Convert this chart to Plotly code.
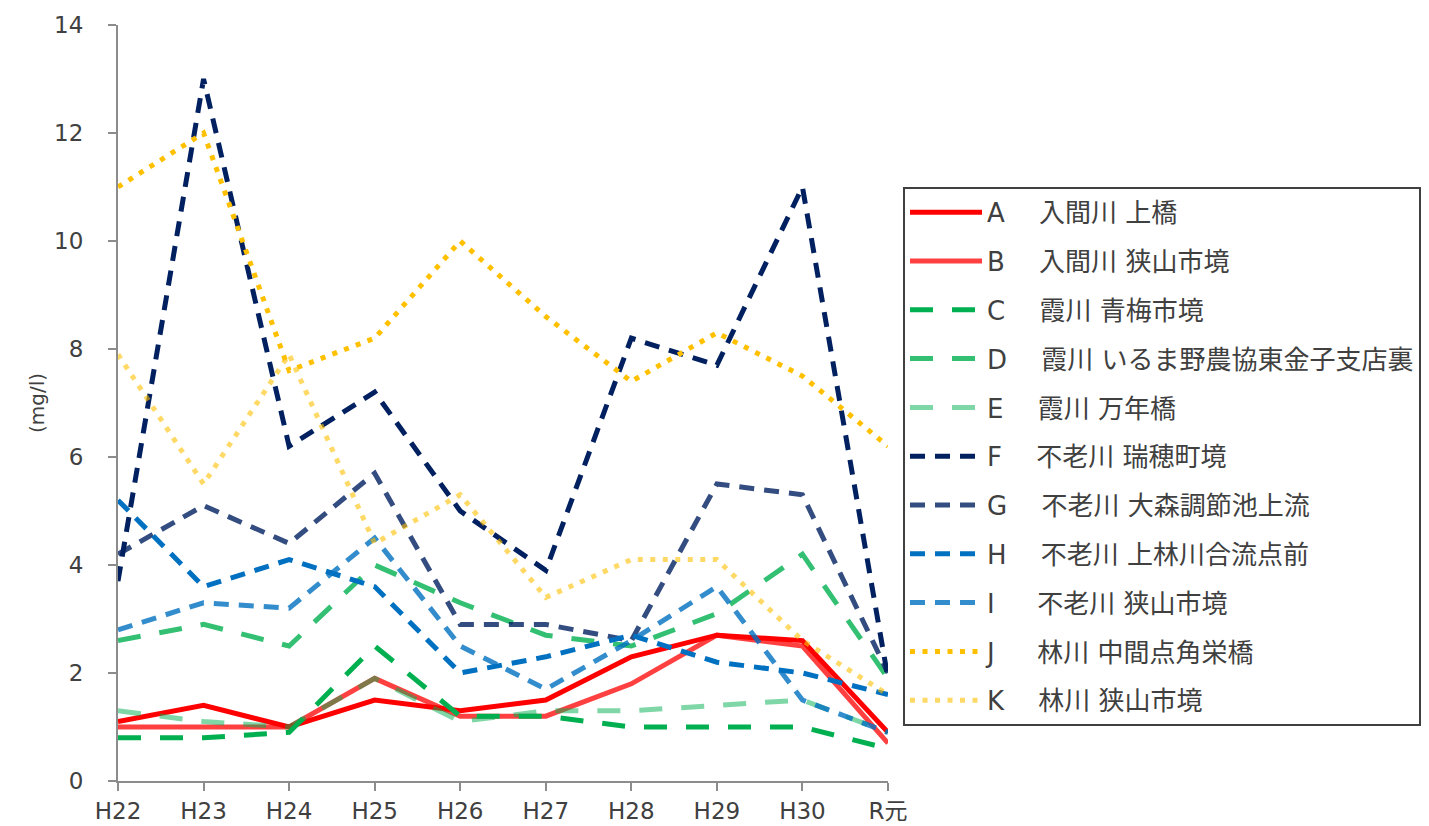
import plotly.graph_objects as go

years = ["H22", "H23", "H24", "H25", "H26", "H27", "H28", "H29", "H30", "R元"]

letters = ["A", "B", "C", "D", "E", "F", "G", "H", "I", "J", "K"]
sites = [
    "入間川 上橋",
    "入間川 狭山市境",
    "霞川 青梅市境",
    "霞川 いるま野農協東金子支店裏",
    "霞川 万年橋",
    "不老川 瑞穂町境",
    "不老川 大森調節池上流",
    "不老川 上林川合流点前",
    "不老川 狭山市境",
    "林川 中間点角栄橋",
    "林川 狭山市境",
]

A = [1.1, 1.4, 1.0, 1.5, 1.3, 1.5, 2.3, 2.7, 2.6, 0.9]
B = [1.0, 1.0, 1.0, 1.9, 1.2, 1.2, 1.8, 2.7, 2.5, 0.7]
C = [0.8, 0.8, 0.9, 2.5, 1.2, 1.2, 1.0, 1.0, 1.0, 0.6]
D = [2.6, 2.9, 2.5, 4.0, 3.3, 2.7, 2.5, 3.1, 4.2, 1.9]
E = [1.3, 1.1, 1.0, 1.9, 1.1, 1.3, 1.3, 1.4, 1.5, 0.9]
F = [3.7, 13.0, 6.2, 7.2, 5.0, 3.9, 8.2, 7.7, 11.0, 1.9]
G = [4.2, 5.1, 4.4, 5.7, 2.9, 2.9, 2.6, 5.5, 5.3, 2.0]
H = [5.2, 3.6, 4.1, 3.6, 2.0, 2.3, 2.7, 2.2, 2.0, 1.6]
I = [2.8, 3.3, 3.2, 4.5, 2.5, 1.7, 2.6, 3.6, 1.5, 0.9]
J = [11.0, 12.0, 7.6, 8.2, 10.0, 8.6, 7.4, 8.3, 7.5, 6.2]
K = [7.9, 5.5, 7.9, 4.4, 5.3, 3.4, 4.1, 4.1, 2.6, 1.6]

series = [A, B, C, D, E, F, G, H, I, J, K]

colors = [
    "#FF0000",
    "rgba(255,0,0,0.75)",
    "#00B050",
    "rgba(0,176,80,0.8)",
    "rgba(0,176,80,0.5)",
    "#002060",
    "rgba(0,32,96,0.8)",
    "#0070C0",
    "rgba(0,112,192,0.8)",
    "#FFC000",
    "rgba(255,192,0,0.6)",
]
LONG = "23px,19px"
MED = "15px,10px"
DOT = "5px,7.5px"
dashes = ["solid", "solid", LONG, LONG, LONG, MED, MED, MED, MED, DOT, DOT]

FONT = "DejaVu Sans, Noto Sans CJK JP, sans-serif"
TXT = "#404040"

fig = go.Figure()
for i, (letter, site, vals) in enumerate(zip(letters, sites, series)):
    pad = "　 \u00a0" if letter in ("I", "J") else "　 "
    fig.add_trace(go.Scatter(
        x=years, y=vals, mode="lines",
        name=f"{letter}{pad}{site}",
        legendgroup=letter,
        line=dict(color=colors[i], width=5, dash=dashes[i]),
    ))

fig.update_layout(
    width=1429, height=826,
    margin=dict(l=118, r=541, t=25, b=45, autoexpand=False),
    paper_bgcolor="white", plot_bgcolor="white",
    font=dict(family=FONT, color=TXT, size=20),
    showlegend=True,
    legend=dict(
        x=1.0195, y=0.786, xanchor="left", yanchor="top",
        bordercolor="#404040", borderwidth=2,
        font=dict(family=FONT, size=26, color=TXT),
        itemwidth=72, tracegroupgap=12,
        traceorder="grouped",
    ),
    xaxis=dict(
        type="category", range=[0, 9],
        showgrid=False, zeroline=False,
        showline=True, linecolor="#8C8C8C", linewidth=2,
        ticks="outside", ticklen=8, tickcolor="#8C8C8C", tickwidth=2,
        tickfont=dict(family=FONT, size=23, color=TXT),
    ),
    yaxis=dict(
        range=[0, 14], dtick=2,
        showgrid=False, zeroline=False,
        showline=True, linecolor="#8C8C8C", linewidth=2,
        ticks="outside", ticklen=8, tickcolor="#8C8C8C", tickwidth=2,
        tickfont=dict(family=FONT, size=23, color=TXT),
        ticklabelstandoff=20,
        title=dict(text="(mg/l)", font=dict(family=FONT, size=20, color=TXT), standoff=4),
    ),
)

fig.write_html("out.html", config={"displayModeBar": False},
               post_script="document.body.style.margin='0';")
